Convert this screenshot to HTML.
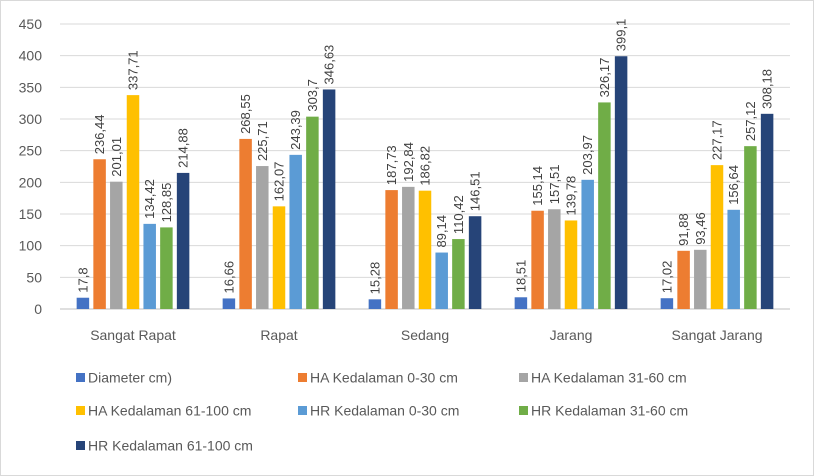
<!DOCTYPE html>
<html><head><meta charset="utf-8"><style>
body{margin:0;background:#fff;}
svg{display:block;font-family:"Liberation Sans","DejaVu Sans",sans-serif;}
</style></head><body>
<svg id="chart" width="814" height="476">
<rect x="0.5" y="0.5" width="813" height="475" fill="#fff" stroke="#d9d9d9"/>
<g id="grid"></g><g id="bars"></g><g id="legend"></g>
</svg>
<script>
const categories=["Sangat Rapat","Rapat","Sedang","Jarang","Sangat Jarang"];
const seriesNames=["Diameter cm)","HA Kedalaman 0-30 cm","HA Kedalaman 31-60 cm","HA Kedalaman 61-100 cm","HR Kedalaman 0-30 cm","HR Kedalaman 31-60 cm","HR Kedalaman 61-100 cm"];
const colors=["#4472c4","#ed7d31","#a5a5a5","#ffc000","#5b9bd5","#70ad47","#264478"];
const diameter=[17.8,16.66,15.28,18.51,17.02];
const ha030=[236.44,268.55,187.73,155.14,91.88];
const ha3160=[201.01,225.71,192.84,157.51,93.46];
const ha61100=[337.71,162.07,186.82,139.78,227.17];
const hr030=[134.42,243.39,89.14,203.97,156.64];
const hr3160=[128.85,303.7,110.42,326.17,257.12];
const hr61100=[214.88,346.63,146.51,399.1,308.18];
const labels=[["17,8","16,66","15,28","18,51","17,02"],["236,44","268,55","187,73","155,14","91,88"],["201,01","225,71","192,84","157,51","93,46"],["337,71","162,07","186,82","139,78","227,17"],["134,42","243,39","89,14","203,97","156,64"],["128,85","303,7","110,42","326,17","257,12"],["214,88","346,63","146,51","399,1","308,18"]];
const yTicks=[0,50,100,150,200,250,300,350,400,450];
const series=[diameter,ha030,ha3160,ha61100,hr030,hr3160,hr61100];
const NS="http://www.w3.org/2000/svg";
const X0=60,X1=790,Y0=309,Y1=24,YMAX=450;
const y=v=>Y0-(v/YMAX)*(Y0-Y1);
const gw=(X1-X0)/categories.length, step=16.7, bw=12.5, pad=(gw-7*step)/2;
function mk(t,a,p){const e=document.createElementNS(NS,t);for(const k in a)e.setAttribute(k,a[k]);p.appendChild(e);return e;}
const grid=document.getElementById('grid'),bars=document.getElementById('bars'),leg=document.getElementById('legend');
yTicks.forEach(t=>{
 const l=mk('line',{x1:X0,x2:X1,y1:y(t),y2:y(t),stroke:t===0?'#bfbfbf':'#d9d9d9','stroke-width':1},grid);
 
 
 const tx=mk('text',{x:42,y:y(t)+5,'text-anchor':'end','font-size':14,fill:'#595959'},grid);
 tx.textContent=t;
 
 
});
categories.forEach((c,i)=>{
 const tx=mk('text',{x:X0+gw*(i+0.5),y:340,'text-anchor':'middle','font-size':14,fill:'#595959'},grid);
 tx.textContent=c;
 
 
 series.forEach((s,j)=>{
  const bx=X0+gw*i+pad+j*step+(step-bw)/2;
  const r=mk('rect',{x:bx,y:y(s[i]),width:bw,height:Y0-y(s[i]),fill:colors[j]},bars);
  
  
  const lx=bx+bw/2+4.5, ly=y(s[i])-5;
  const t=mk('text',{x:lx,y:ly,'font-size':13,fill:'#404040',transform:`rotate(-90 ${lx} ${ly})`},bars);
  t.textContent=labels[j][i];
  
  
 });
});
const lpos=[[76,378],[298,378],[519,378],[76,411],[298,411],[519,411],[76,446]];
seriesNames.forEach((n,j)=>{
 const [lx,ly]=lpos[j];
 const r=mk('rect',{x:lx,y:ly-5,width:9,height:9,fill:colors[j]},leg);
 
 
 const t=mk('text',{x:lx+12,y:ly+4.5,'font-size':14,fill:'#595959'},leg);
 t.textContent=n;
 
 
});
</script>
</body></html>
